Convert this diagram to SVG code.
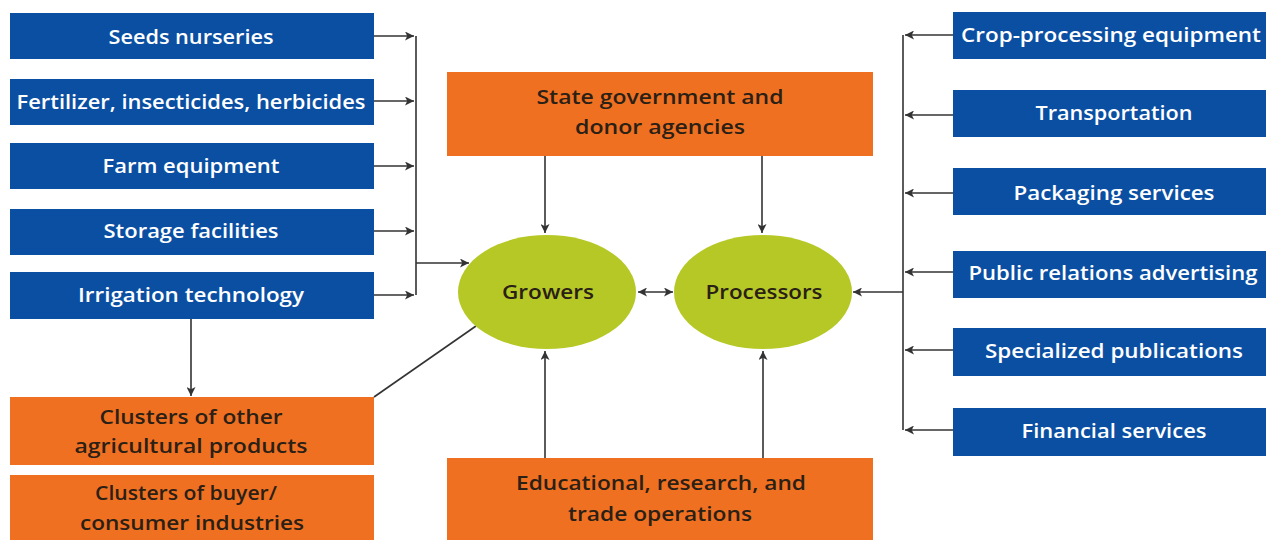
<svg xmlns="http://www.w3.org/2000/svg" width="1266" height="540" viewBox="0 0 1266 540">
<style>
.b{fill:#0b4fa3}
.o{fill:#f07022}
.g{fill:#b6c826}
text{font-family:"Open Sans","Liberation Sans",sans-serif;font-size:20px;font-weight:600;text-anchor:middle}
.w{fill:#ffffff}
.d{fill:#2a2016}
.c{stroke:#333333;stroke-width:1.6;fill:none}
</style>
<defs>
<marker id="ah" viewBox="0 0 10 10" refX="10" refY="5" markerWidth="9" markerHeight="9" markerUnits="userSpaceOnUse" orient="auto-start-reverse">
<path d="M0,0 L10,5 L0,10 L2.5,5 z" fill="#333333"/>
</marker>
</defs>
<rect width="1266" height="540" fill="#ffffff"/>
<g id="connectors">
<path class="c" d="M374,36 H414" marker-end="url(#ah)"/>
<path class="c" d="M374,101 H414" marker-end="url(#ah)"/>
<path class="c" d="M374,166 H414" marker-end="url(#ah)"/>
<path class="c" d="M374,231 H414" marker-end="url(#ah)"/>
<path class="c" d="M374,295 H414" marker-end="url(#ah)"/>
<path class="c" d="M416,36 V295"/>
<path class="c" d="M416,263 H469" marker-end="url(#ah)"/>
<path class="c" d="M191,319 V396" marker-end="url(#ah)"/>
<path class="c" d="M374,397 L476,326"/>
<path class="c" d="M545,156 V233" marker-end="url(#ah)"/>
<path class="c" d="M762,156 V233" marker-end="url(#ah)"/>
<path class="c" d="M545,458 V351" marker-end="url(#ah)"/>
<path class="c" d="M763,458 V351" marker-end="url(#ah)"/>
<path class="c" d="M638,292 H673" marker-start="url(#ah)" marker-end="url(#ah)"/>
<path class="c" d="M953,35 H905" marker-end="url(#ah)"/>
<path class="c" d="M953,115 H905" marker-end="url(#ah)"/>
<path class="c" d="M953,193 H905" marker-end="url(#ah)"/>
<path class="c" d="M953,272 H905" marker-end="url(#ah)"/>
<path class="c" d="M953,350 H905" marker-end="url(#ah)"/>
<path class="c" d="M953,430 H905" marker-end="url(#ah)"/>
<path class="c" d="M903,35 V430"/>
<path class="c" d="M903,292 H853" marker-end="url(#ah)"/>
</g>
<g id="seeds"><rect class="b" x="10" y="13" width="364" height="46"/><text class="w" x="191" y="44" textLength="165" lengthAdjust="spacingAndGlyphs">Seeds nurseries</text></g>
<g id="fertilizer"><rect class="b" x="10" y="79" width="364" height="46"/><text class="w" x="191" y="109" textLength="349" lengthAdjust="spacingAndGlyphs">Fertilizer, insecticides, herbicides</text></g>
<g id="farm"><rect class="b" x="10" y="143" width="364" height="46"/><text class="w" x="191" y="173" textLength="177" lengthAdjust="spacingAndGlyphs">Farm equipment</text></g>
<g id="storage"><rect class="b" x="10" y="209" width="364" height="46"/><text class="w" x="191" y="238" textLength="175" lengthAdjust="spacingAndGlyphs">Storage facilities</text></g>
<g id="irrigation"><rect class="b" x="10" y="272" width="364" height="47"/><text class="w" x="191" y="302" textLength="226" lengthAdjust="spacingAndGlyphs">Irrigation technology</text></g>
<g id="state"><rect class="o" x="447" y="72" width="426" height="84"/><text class="d" x="660" y="104" textLength="247" lengthAdjust="spacingAndGlyphs">State government and</text><text class="d" x="660" y="134" textLength="170" lengthAdjust="spacingAndGlyphs">donor agencies</text></g>
<g id="growers"><ellipse class="g" cx="547" cy="292" rx="89" ry="57"/><text class="d" x="548" y="299" textLength="92" lengthAdjust="spacingAndGlyphs">Growers</text></g>
<g id="processors"><ellipse class="g" cx="763" cy="292" rx="89" ry="57"/><text class="d" x="764" y="299" textLength="117" lengthAdjust="spacingAndGlyphs">Processors</text></g>
<g id="clusters-other"><rect class="o" x="10" y="397" width="364" height="68"/><text class="d" x="191" y="424" textLength="183" lengthAdjust="spacingAndGlyphs">Clusters of other</text><text class="d" x="191" y="453" textLength="233" lengthAdjust="spacingAndGlyphs">agricultural products</text></g>
<g id="clusters-buyer"><rect class="o" x="10" y="475" width="364" height="65"/><text class="d" x="186" y="500" textLength="182" lengthAdjust="spacingAndGlyphs">Clusters of buyer/</text><text class="d" x="192" y="530" textLength="224" lengthAdjust="spacingAndGlyphs">consumer industries</text></g>
<g id="educational"><rect class="o" x="447" y="458" width="426" height="82"/><text class="d" x="661" y="490" textLength="290" lengthAdjust="spacingAndGlyphs">Educational, research, and</text><text class="d" x="660" y="521" textLength="184" lengthAdjust="spacingAndGlyphs">trade operations</text></g>
<g id="crop"><rect class="b" x="953" y="12" width="313" height="47"/><text class="w" x="1111" y="42" textLength="300" lengthAdjust="spacingAndGlyphs">Crop-processing equipment</text></g>
<g id="transportation"><rect class="b" x="953" y="90" width="313" height="47"/><text class="w" x="1114" y="120" textLength="157" lengthAdjust="spacingAndGlyphs">Transportation</text></g>
<g id="packaging"><rect class="b" x="953" y="168" width="313" height="47"/><text class="w" x="1114" y="200" textLength="201" lengthAdjust="spacingAndGlyphs">Packaging services</text></g>
<g id="public"><rect class="b" x="953" y="251" width="313" height="47"/><text class="w" x="1113" y="280" textLength="289" lengthAdjust="spacingAndGlyphs">Public relations advertising</text></g>
<g id="specialized"><rect class="b" x="953" y="328" width="313" height="48"/><text class="w" x="1114" y="358" textLength="258" lengthAdjust="spacingAndGlyphs">Specialized publications</text></g>
<g id="financial"><rect class="b" x="953" y="408" width="313" height="48"/><text class="w" x="1114" y="438" textLength="185" lengthAdjust="spacingAndGlyphs">Financial services</text></g>
</svg>
